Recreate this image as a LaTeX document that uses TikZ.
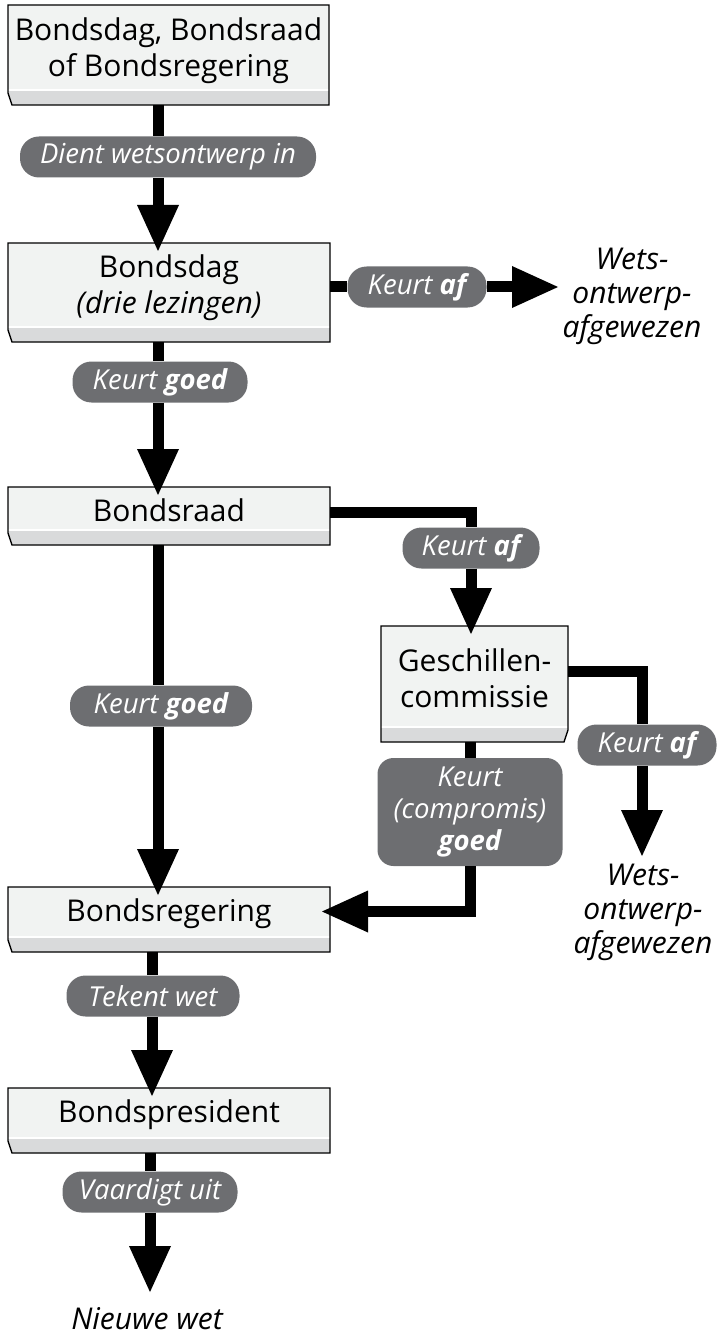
\documentclass[tikz,border=0pt]{standalone}
\usepackage{fontspec}
\setmainfont{Open Sans}
\usetikzlibrary{arrows.meta}
\pgfdeclarelayer{background}
\pgfsetlayers{background,main}
\definecolor{boxfill}{HTML}{F1F3F2}
\definecolor{stripgray}{HTML}{D9DADB}
\definecolor{pillgray}{HTML}{6D6E71}
\tikzset{
  boxnode/.style={inner sep=0pt, outer sep=0pt, draw=none, minimum width=322pt},
  boxtext/.style={inner sep=0pt, align=center, font=\fontsize{30}{36}\selectfont},
  boxline/.style={draw=black, line width=1.3pt, line join=miter},
  pill/.style={fill=pillgray, text=white, rounded corners=19pt, inner sep=0pt,
    minimum height=41pt, align=center, font=\itshape\fontsize{27.5}{32}\selectfont},
  outtext/.style={inner sep=0pt, align=center, font=\itshape\fontsize{30}{34}\selectfont},
  stemline/.style={line width=11pt, line join=miter},
  arrowline/.style={line width=11pt, line join=miter,
    -{Triangle[width=42pt,length=46pt,line width=0pt]}},
  arrowin/.style={arrowline, shorten >=-8pt},
}
\newcommand\flowboxL[1]{%
  \fill[boxfill] (#1.north west) -- (#1.north east) -- (#1.south east) -- ([xshift=4pt]#1.south west) -- ([yshift=12pt]#1.south west) -- cycle;
  \fill[stripgray] ([yshift=15pt]#1.south west) -- ([yshift=15pt]#1.south east) -- (#1.south east) -- ([xshift=4pt]#1.south west) -- ([yshift=12pt]#1.south west) -- cycle;
  \draw[white, line width=1.2pt] ([yshift=15pt]#1.south west) -- ([yshift=15pt]#1.south east);
  \draw[boxline] (#1.north west) -- (#1.north east) -- (#1.south east) -- ([xshift=4pt]#1.south west) -- ([yshift=12pt]#1.south west) -- cycle;
}
\newcommand\flowboxR[1]{%
  \fill[boxfill] (#1.north west) -- (#1.north east) -- ([yshift=12pt]#1.south east) -- ([xshift=-4pt]#1.south east) -- (#1.south west) -- cycle;
  \fill[stripgray] ([yshift=15pt]#1.south west) -- ([yshift=15pt]#1.south east) -- ([yshift=12pt]#1.south east) -- ([xshift=-4pt]#1.south east) -- (#1.south west) -- cycle;
  \draw[white, line width=1.2pt] ([yshift=15pt]#1.south west) -- ([yshift=15pt]#1.south east);
  \draw[boxline] (#1.north west) -- (#1.north east) -- ([yshift=12pt]#1.south east) -- ([xshift=-4pt]#1.south east) -- (#1.south west) -- cycle;
}
\begin{document}
\begin{tikzpicture}[x=1pt, y=-1pt]
\useasboundingbox (0,0) rectangle (723,1337);

% boxes
\node[boxnode, minimum width=321pt, minimum height=100pt] (b1) at (168.5,55) {};
\node[boxtext] (b1t) at ([yshift=4.5pt]b1.center) {Bondsdag, Bondsraad\\of Bondsregering};
\node[boxnode, minimum height=99pt] (b2) at (169,292.5) {};
\node[boxtext] (b2t) at ([yshift=5pt]b2.center) {Bondsdag\\\itshape(drie lezingen)};
\node[boxnode, minimum height=58pt] (b3) at (169,516) {};
\node[boxtext] (b3t) at ([yshift=6pt]b3.center) {Bondsraad};
\node[boxnode, minimum width=187pt, minimum height=116pt] (b4) at (474.5,684) {};
\node[boxtext] (b4t) at ([yshift=6pt]b4.center) {Geschillen-\\commissie};
\node[boxnode, minimum height=65pt] (b5) at (169,919.5) {};
\node[boxtext] (b5t) at ([yshift=6pt]b5.center) {Bondsregering};
\node[boxnode, minimum height=65pt] (b6) at (169,1120.5) {};
\node[boxtext] (b6t) at ([yshift=6pt]b6.center) {Bondspresident};

% labels
\node[pill, minimum width=296pt] (p1) at (168,157) {Dient wetsontwerp in};
\node[pill, minimum width=139pt] (p2) at (417,287) {Keurt \textbf{af}};
\node[pill, minimum width=175pt] (p3) at (160,382) {Keurt \textbf{goed}};
\node[pill, minimum width=137pt] (p4) at (471,548) {Keurt \textbf{af}};
\node[pill, minimum width=182pt] (p5) at (161,706) {Keurt \textbf{goed}};
\node[pill, minimum width=139pt] (p6) at (647,745) {Keurt \textbf{af}};
\node[pill, minimum width=185pt, minimum height=108pt, rounded corners=16pt] (p7) at (470,812) {Keurt\\(compromis)\\\textbf{goed}};
\node[pill, minimum width=173pt] (p8) at (153,996) {Tekent wet};
\node[pill, minimum width=175pt] (p9) at (150,1192) {Vaardigt uit};

% outcome texts
\node[outtext] (w1) at (632,296) {Wets-\\ontwerp-\\afgewezen};
\node[outtext] (w2) at (643,912) {Wets-\\ontwerp-\\afgewezen};
\node[outtext] (nw) at (147,1319) {Nieuwe wet};

% helper coordinates
\coordinate (xa) at (158,0);
\coordinate (xb) at (152,0);
\coordinate (xc) at (150,0);
\coordinate (xd) at (642,0);
\coordinate (t1) at (558,287);
\coordinate (t2) at (642,856);
\coordinate (t3) at (150,1292);

\begin{pgfonlayer}{background}
\flowboxL{b1}
\flowboxL{b2}
\flowboxL{b3}
\flowboxR{b4}
\flowboxL{b5}
\flowboxL{b6}
\end{pgfonlayer}

% connectors
\draw[stemline] (b1.south -| xa) -- (p1.north -| xa);
\draw[arrowin] (p1.south -| xa) -- (b2.north -| xa);

\draw[stemline] (b2.east |- p2.west) -- (p2.west);
\draw[arrowline] (p2.east) -- (t1);

\draw[stemline] (b2.south -| xa) -- (p3.north -| xa);
\draw[arrowin] (p3.south -| xa) -- (b3.north -| xa);

\draw[stemline] ([yshift=4pt]b3.east) -| (p4.north);
\draw[arrowin] (p4.south) -- (b4.north -| p4.south);

\draw[stemline] ([yshift=13pt]b4.east) -| (p6.north -| xd);
\draw[arrowline] (p6.south -| xd) -- (t2);

\draw[stemline] (b4.south -| p7.north) -- (p7.north);
\draw[arrowin] (p7.south) |- ([yshift=8pt]b5.east);

\draw[stemline] (b3.south -| xa) -- (p5.north -| xa);
\draw[arrowin] (p5.south -| xa) -- (b5.north -| xa);

\draw[stemline] (b5.south -| xb) -- (p8.north -| xb);
\draw[arrowin] (p8.south -| xb) -- (b6.north -| xb);

\draw[stemline] (b6.south -| xc) -- (p9.north -| xc);
\draw[arrowline] (p9.south -| xc) -- (t3);
\end{tikzpicture}
\end{document}
